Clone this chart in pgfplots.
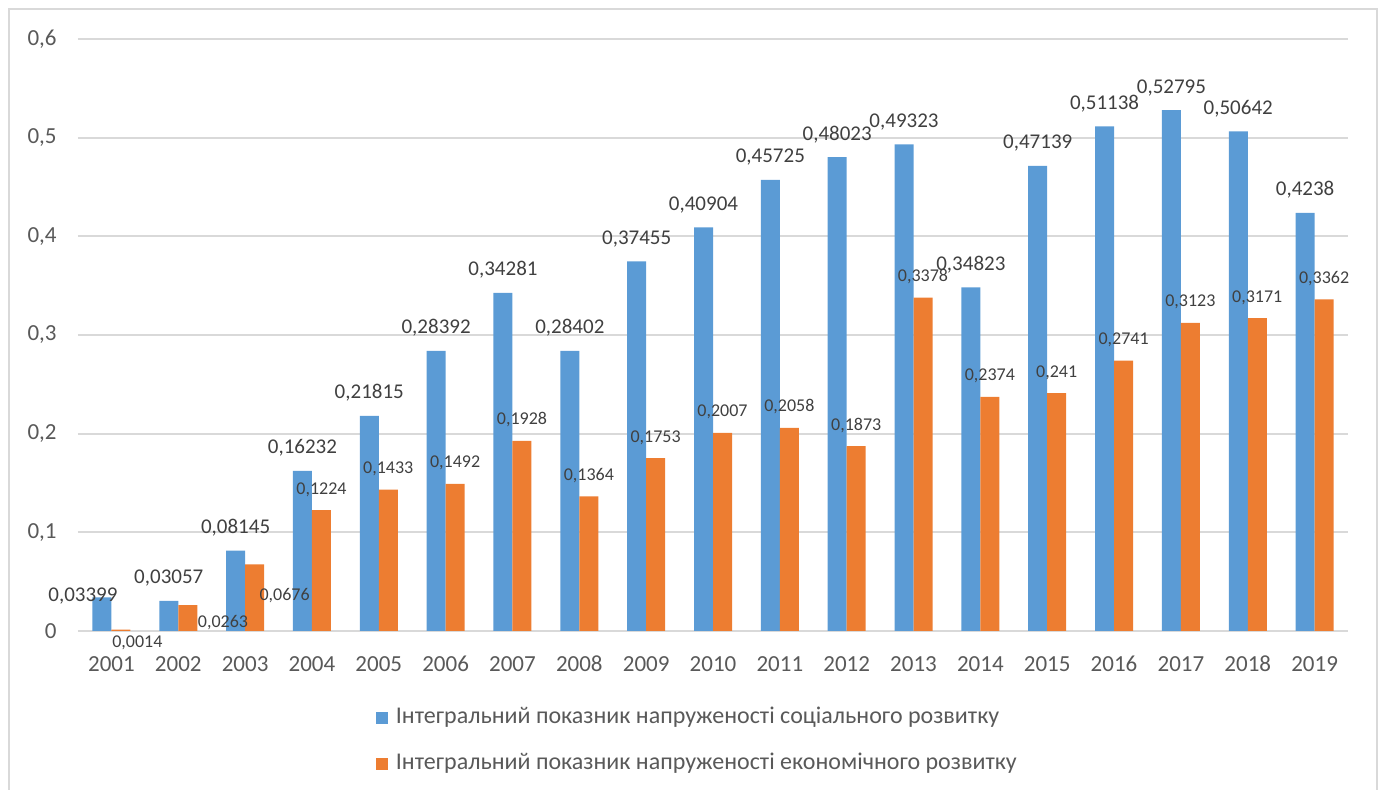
\documentclass[border=0pt]{standalone}
\usepackage{pgfplots}
\pgfplotsset{compat=1.18}
\usepackage{pgfplotstable}
\usepackage{fontspec}
\setmainfont{Carlito}
\definecolor{cblue}{HTML}{5B9BD5}
\definecolor{corange}{HTML}{ED7D31}
\definecolor{tgray}{HTML}{595959}
\definecolor{lgray}{HTML}{404040}
\definecolor{ggray}{HTML}{D9D9D9}

\pgfplotstableread{
x y lab dx dy
0 0.03399 0,03399 -9.5 -2
1 0.03057 0,03057 0 8.5
2 0.08145 0,08145 0 8.5
3 0.16232 0,16232 0 8.5
4 0.21815 0,21815 0 8.5
5 0.28392 0,28392 0 8.5
6 0.34281 0,34281 0 8.5
7 0.28402 0,28402 0 8.5
8 0.37455 0,37455 0 8.5
9 0.40904 0,40904 0 8.5
10 0.45725 0,45725 0 8.5
11 0.48023 0,48023 0 8.5
12 0.49323 0,49323 0 8.5
13 0.34823 0,34823 0 8.5
14 0.47139 0,47139 0 8.5
15 0.51138 0,51138 0 8.5
16 0.52795 0,52795 0 8.5
17 0.50642 0,50642 0 8.5
18 0.4238 0,4238 0 8.5
}\soc

\pgfplotstableread{
x y lab dx dy
0 0.0014 0,0014 8.25 -8.7
1 0.0263 0,0263 17.6 -11
2 0.0676 0,0676 15 -17.9
3 0.1224 0,1224 0 8
4 0.1433 0,1433 0 8
5 0.1492 0,1492 0 8
6 0.1928 0,1928 0 8
7 0.1364 0,1364 0 8
8 0.1753 0,1753 0 8
9 0.2007 0,2007 0 8
10 0.2058 0,2058 0 8
11 0.1873 0,1873 0 8
12 0.3378 0,3378 0 8
13 0.2374 0,2374 0 8
14 0.241 0,241 0 8
15 0.2741 0,2741 0 8
16 0.3123 0,3123 0 8
17 0.3171 0,3171 0 8
18 0.3362 0,3362 0 8
}\eco

\begin{document}
\begin{tikzpicture}
\useasboundingbox (-39pt,-79.5pt) rectangle (651.5pt,315.5pt);
\draw[ggray, line width=0.75pt] (-34.5pt,-95pt) -- (-34.5pt,311pt) -- (649.5pt,311pt) -- (649.5pt,-95pt);
\begin{axis}[
  at={(0pt,0pt)}, anchor=south west, scale only axis,
  width=635pt, height=296pt,
  xmin=-0.5, xmax=18.5, ymin=0, ymax=0.6,
  enlargelimits=false, clip=false,
  ybar=0pt, bar width=9.5pt,
  xtick={0,...,18},
  xticklabels={2001,2002,2003,2004,2005,2006,2007,2008,2009,2010,2011,2012,2013,2014,2015,2016,2017,2018,2019},
  ytick={0,0.1,0.2,0.3,0.4,0.5,0.6},
  /pgf/number format/use comma,
  /pgf/number format/fixed,
  /pgf/number format/precision=1,
  /pgf/number format/assume math mode=true,
  axis lines*=left,
  axis line style={-},
  x axis line style={ggray, line width=0.9pt},
  y axis line style={draw=none},
  tick style={draw=none},
  major tick length=0pt,
  ymajorgrids,
  grid style={ggray, line width=0.9pt},
  yticklabel style={text=tgray, font=\fontsize{11.5}{13}\selectfont, inner sep=0pt, anchor=east, xshift=-10.5pt},
  xticklabel style={text=tgray, font=\fontsize{11.5}{13}\selectfont, inner sep=0pt, anchor=base, yshift=-20.5pt},
  legend style={at={(axis description cs:0.2346,-0.1284)}, anchor=north west, draw=none, fill=none,
    inner sep=0pt, outer sep=0pt, row sep=12.5pt, column sep=4pt,
    nodes={inner sep=0pt, text height=8pt, text depth=2.5pt, text=tgray},
    font=\fontsize{12}{14}\selectfont},
  legend cell align=left,
  legend image code/.code={\fill[#1] (0pt,-3pt) rectangle (6pt,3pt);},
]
\addplot[fill=cblue, draw=none, point meta=explicit symbolic,
  nodes near coords,
  visualization depends on={\thisrow{dx} \as \ldx},
  visualization depends on={\thisrow{dy} \as \ldy},
  every node near coord/.append style={anchor=base, inner sep=0pt, xshift=\ldx pt, yshift=\ldy pt, font=\fontsize{10.5}{12}\selectfont, text=lgray}
] table[x=x, y=y, meta=lab] {\soc};
\addlegendentry{Інтегральний показник напруженості соціального розвитку}
\addplot[fill=corange, draw=none, point meta=explicit symbolic,
  nodes near coords,
  visualization depends on={\thisrow{dx} \as \ldx},
  visualization depends on={\thisrow{dy} \as \ldy},
  every node near coord/.append style={anchor=base, inner sep=0pt, xshift=\ldx pt, yshift=\ldy pt, font=\fontsize{9}{11}\selectfont, text=lgray}
] table[x=x, y=y, meta=lab] {\eco};
\addlegendentry{Інтегральний показник напруженості економічного розвитку}
\end{axis}
\end{tikzpicture}
\end{document}
